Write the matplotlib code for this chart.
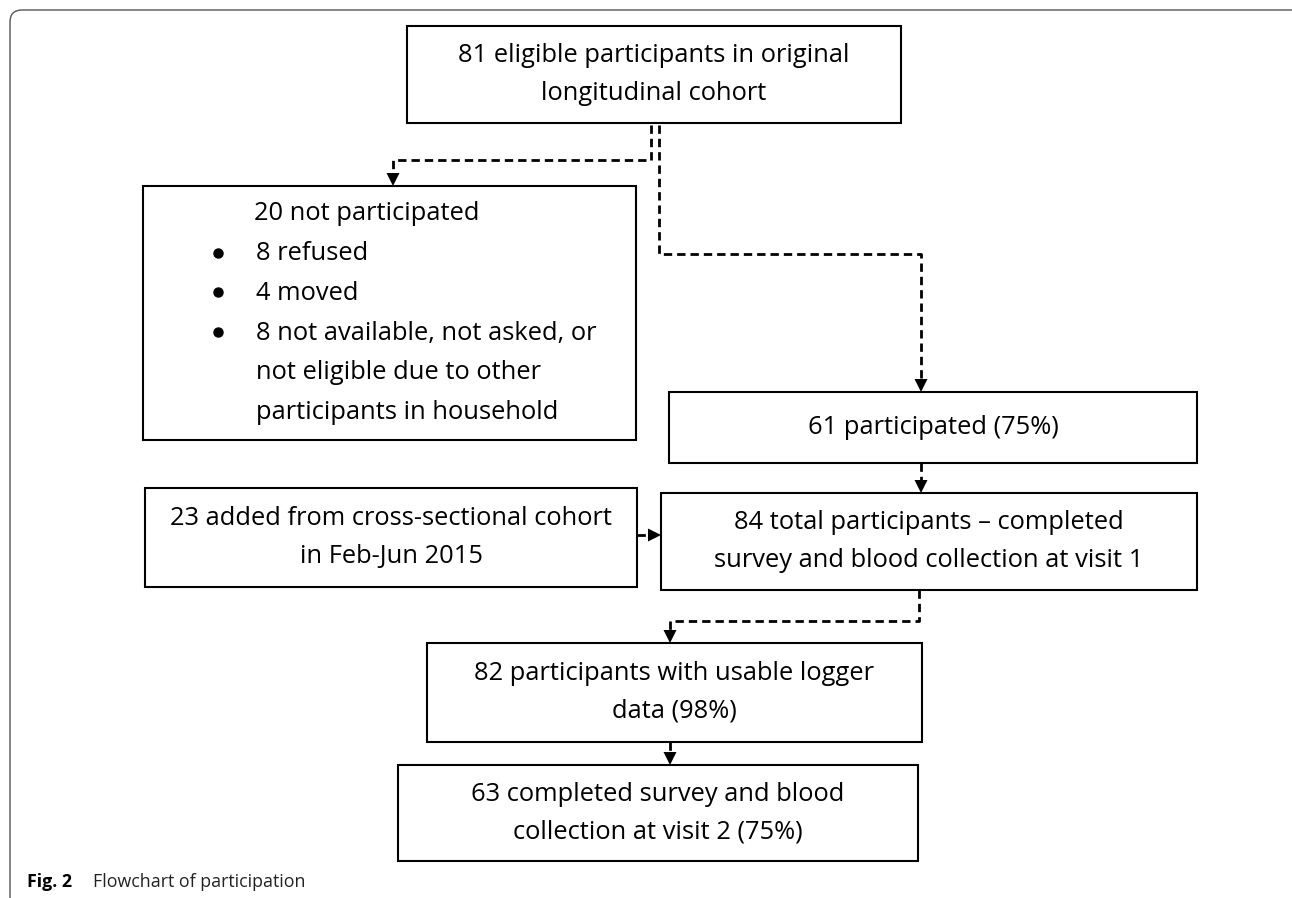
import matplotlib
matplotlib.use("Agg")
import matplotlib.pyplot as plt
from matplotlib.patches import Rectangle, FancyBboxPatch, Polygon

FONT = "Open Sans"
TEXT_SIZE = 18.4
BOX_LW = 1.5
DASH_LW = 2.0

# box texts
box_texts = [
    ["81 eligible participants in original", "longitudinal cohort"],
    ["61 participated (75%)"],
    ["23 added from cross-sectional cohort", "in Feb-Jun 2015"],
    ["84 total participants \u2013 completed", "survey and blood collection at visit 1"],
    ["82 participants with usable logger", "data (98%)"],
    ["63 completed survey and blood", "collection at visit 2 (75%)"],
]
excluded_title = "20 not participated"
excluded_items = [
    ["8 refused"],
    ["4 moved"],
    ["8 not available, not asked, or", "not eligible due to other", "participants in household"],
]
caption_bold = "Fig. 2"
caption_text = "Flowchart of participation"

# layout (pixel space): x0, y0, x1, y1
box_pos = [
    (407, 26, 901, 123),
    (669, 392, 1197, 463),
    (145, 488, 637, 587),
    (661, 493, 1197, 590),
    (427, 643, 922, 742),
    (398, 765, 918, 861),
]
excl_pos = (143, 186, 636, 440)

# dashed connectors: list of points, last point is arrow tip
connectors = [
    [(651, 125), (651, 160), (393, 160), (393, 186)],
    [(659, 125), (659, 254), (921, 254), (921, 392)],
    [(921, 463), (921, 493)],
    [(637, 535), (661, 535)],
    [(919, 590), (919, 621), (670, 621), (670, 643)],
    [(670, 742), (670, 765)],
]

fig = plt.figure(figsize=(12.92, 8.98), dpi=100)
ax = fig.add_axes([0, 0, 1, 1])
ax.set_xlim(0, 1292)
ax.set_ylim(898, 0)
ax.axis("off")

# outer frame
frame = FancyBboxPatch((10, 10), 1300, 950, boxstyle="round,pad=0,rounding_size=12",
                       fill=False, ec="#555555", lw=1.0)
ax.add_patch(frame)


def draw_box(pos, lines, line_gap=37.5):
    x0, y0, x1, y1 = pos
    ax.add_patch(Rectangle((x0, y0), x1 - x0, y1 - y0, fill=False, ec="black", lw=BOX_LW))
    cx = (x0 + x1) / 2
    cy = (y0 + y1) / 2
    start = cy - line_gap * (len(lines) - 1) / 2
    for i, t in enumerate(lines):
        ax.text(cx, start + i * line_gap, t, ha="center", va="center",
                fontsize=TEXT_SIZE, family=FONT)


for pos, lines in zip(box_pos, box_texts):
    draw_box(pos, lines)

# exclusion box with bullets
x0, y0, x1, y1 = excl_pos
ax.add_patch(Rectangle((x0, y0), x1 - x0, y1 - y0, fill=False, ec="black", lw=BOX_LW))
ax.text(254, 214, excluded_title, ha="left", va="center",
        fontsize=TEXT_SIZE, family=FONT)
y = 254
for item in excluded_items:
    ax.plot(218, y - 1.5, "o", color="black", ms=6.5)
    for t in item:
        ax.text(256, y, t, ha="left", va="center", fontsize=TEXT_SIZE, family=FONT)
        y += 39.6

# connectors
for pts in connectors:
    xs = [p[0] for p in pts]
    ys = [p[1] for p in pts]
    (tx, ty), (px, py) = pts[-1], pts[-2]
    L = 13
    W = 6.5
    if tx == px:
        d = 1 if ty > py else -1
        base = (tx, ty - d * L)
        head = [(tx, ty), (tx - W, ty - d * L), (tx + W, ty - d * L)]
    else:
        d = 1 if tx > px else -1
        base = (tx - d * L, ty)
        head = [(tx, ty), (tx - d * L, ty - W), (tx - d * L, ty + W)]
    xs[-1], ys[-1] = base
    ax.plot(xs, ys, color="black", lw=DASH_LW, linestyle=(0, (3.0, 1.8)),
            solid_capstyle="butt", dash_capstyle="butt")
    ax.add_patch(Polygon(head, closed=True, color="black", lw=0))

# caption
ax.text(27, 882, caption_bold, ha="left", va="center", fontsize=12.8,
        family="Open Sans", weight="bold")
ax.text(93, 882, caption_text, ha="left", va="center", fontsize=12.8,
        family="Open Sans", color="#222222")

fig.savefig("out.png", dpi=100)
